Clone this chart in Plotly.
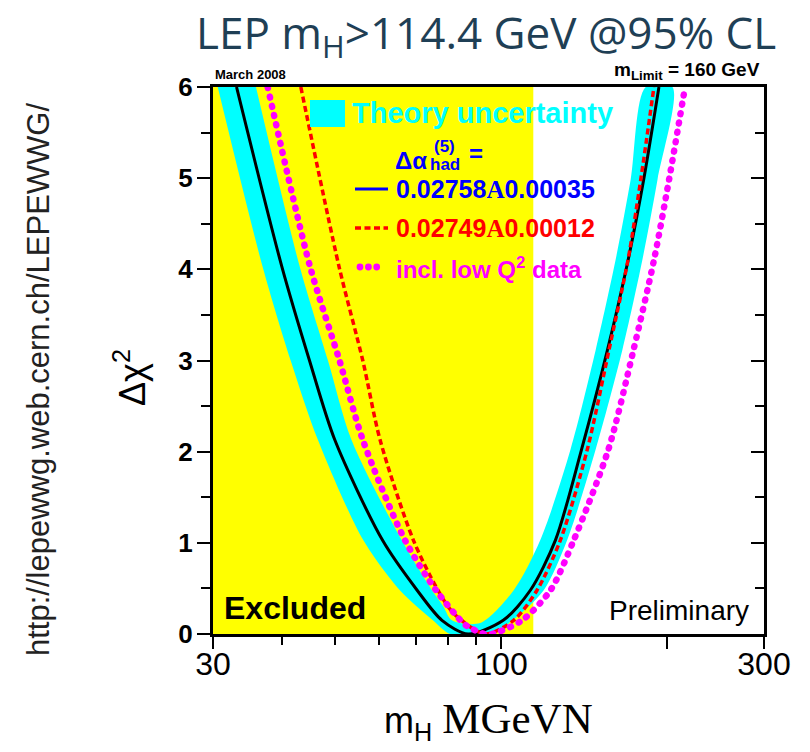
import math
import plotly.graph_objects as go

# ---------------- data ----------------
M_MIN, M_MAX = 30, 300
CHI_MIN, CHI_MAX = 0, 6
EXCLUDED_LIMIT = 114.4

x_tick_vals = [30, 100, 200, 300]
x_tick_text = ["30", "100", "", "300"]
x_minor_vals = [40, 50, 60, 70, 80, 90]

# central fit, Delta alpha_had = 0.02758 +- 0.00035 (black line)
m_central = [33.1, 40.0, 44.9, 49.9, 60.9, 70.4, 78.1, 87.1, 100.9, 113.0, 125.5, 139.9, 155.9, 170.0, 181.4, 193.4]
chi_central = [6.0, 4.03, 3.0, 2.13, 1.03, 0.48, 0.15, 0.0, 0.15, 0.48, 1.03, 2.02, 3.11, 4.10, 4.98, 6.0]

# theory uncertainty band: outer and inner envelopes
m_band_outer = [30.6, 36.9, 41.5, 46.5, 56.2, 65.5, 75.2, 80.8, 95.6, 104.8, 119.5, 131.8, 148.4, 165.9, 180.4, 192.2, 204.6]
chi_band_outer = [6.0, 4.03, 3.0, 2.13, 1.03, 0.48, 0.15, 0.0, 0.0, 0.15, 0.48, 1.03, 2.02, 3.11, 4.10, 4.98, 6.0]
m_band_inner = [35.9, 43.1, 48.5, 53.5, 66.0, 74.9, 78.6, 81.4, 91.6, 105.4, 117.8, 133.6, 148.4, 161.3, 171.8, 183.0]
chi_band_inner = [6.0, 4.03, 3.0, 2.13, 1.03, 0.48, 0.30, 0.15, 0.12, 0.48, 1.03, 2.02, 3.11, 4.10, 4.98, 6.0]

# Delta alpha_had = 0.02749 +- 0.00012 (red dashed)
m_alt = [43.3, 50.8, 56.1, 60.3, 69.3, 76.8, 81.9, 93.6, 105.4, 116.2, 128.1, 143.3, 156.9, 169.9, 179.2, 189.4]
chi_alt = [6.0, 4.03, 3.0, 2.13, 1.03, 0.48, 0.23, 0.0, 0.15, 0.48, 1.03, 2.02, 3.11, 4.10, 4.98, 6.0]

# incl. low Q^2 data (magenta dotted)
m_lowq2 = [37.7, 45.0, 50.9, 56.1, 66.9, 76.2, 85.7, 88.5, 91.6, 96.0, 109.1, 122.9, 135.5, 156.5, 173.8, 189.4, 201.7, 215.7]
chi_lowq2 = [6.0, 4.03, 3.0, 2.13, 1.03, 0.48, 0.11, 0.06, 0.014, 0.0, 0.15, 0.48, 1.03, 2.02, 3.11, 4.10, 4.98, 6.0]

# ---------------- styles ----------------
YELLOW = "#FFFF00"
CYAN = "#00FFFF"
BLUE = "#0000FF"
RED = "#FF0000"
MAGENTA = "#FF00FF"
SANS = "Liberation Sans"
SERIF = "Liberation Serif"

fig = go.Figure()

fig.add_trace(go.Scatter(
    x=[M_MIN, EXCLUDED_LIMIT, EXCLUDED_LIMIT, M_MIN],
    y=[CHI_MIN, CHI_MIN, CHI_MAX, CHI_MAX],
    mode="lines", fill="toself", fillcolor=YELLOW,
    line=dict(width=0, color=YELLOW), hoverinfo="skip"))

fig.add_trace(go.Scatter(
    x=m_band_outer + m_band_inner[::-1],
    y=chi_band_outer + chi_band_inner[::-1],
    mode="lines", fill="toself", fillcolor=CYAN,
    line=dict(width=0, color=CYAN, shape="spline", smoothing=0.8), hoverinfo="skip"))

fig.add_trace(go.Scatter(
    x=m_central, y=chi_central, mode="lines",
    line=dict(color="black", width=3, shape="spline", smoothing=0.8)))

fig.add_trace(go.Scatter(
    x=m_alt, y=chi_alt, mode="lines",
    line=dict(color=RED, width=3.5, dash="6px,3.5px", shape="spline", smoothing=0.8)))

fig.add_trace(go.Scatter(
    x=m_lowq2, y=chi_lowq2, mode="lines", yaxis="y2",
    line=dict(color=MAGENTA, width=6.5, dash="1px,8.5px", shape="spline", smoothing=0.8)))

L, R, T, B = 213, 46, 87, 118
W, H = 810, 752
PW, PH = W - L - R, H - T - B


def px(xp):
    return (xp - L) / PW


def py(yp):
    return (H - B - yp) / PH


ann = []


def text(s, x, y, size, color="black", bold=False, xanchor="left", family=SANS, angle=0):
    ann.append(dict(text=s, x=px(x), y=py(y), xref="paper", yref="paper",
                    xanchor=xanchor, yanchor="middle", showarrow=False, textangle=angle,
                    font=dict(family=family, size=size, color=color,
                              weight="bold" if bold else "normal")))


text("LEP m<sub>H</sub>>114.4 GeV @95% CL", 486, 34, 44, color="#1F3F55",
     xanchor="center", family="Open Sans")
text("http://lepewwg.web.cern.ch/LEPEWWG/", 38, 380, 31, color="#222222",
     xanchor="center", angle=-90)
text("Δχ<sup>2</sup>", 130, 378, 36, xanchor="center", angle=-90)
text("m<sub>H</sub> <span style=\"font-family:Liberation Serif;font-size:43px\">MGeVN</span>",
     488, 720, 36, xanchor="center")
text("March 2008", 213, 75, 13, bold=True)
text("m<sub>Limit</sub> = 160 GeV", 762, 71, 19, bold=True, xanchor="right")
text("Excluded", 222, 608, 32, bold=True)
text("Preliminary", 751, 610, 28, xanchor="right")

text("Theory uncertainty", 350, 113, 29, color=CYAN, bold=True)
text("Δα", 393, 160, 24, color=BLUE, bold=True)
text("(5)", 432, 146, 17, color=BLUE, bold=True)
text("had", 428, 164, 17, color=BLUE, bold=True)
text("=", 467, 153, 24, color=BLUE, bold=True)
text("0.02758<span style=\"font-family:Liberation Serif\">A</span>0.00035", 394, 189, 25,
     color=BLUE, bold=True)
text("0.02749<span style=\"font-family:Liberation Serif\">A</span>0.00012", 394, 228, 25,
     color=RED, bold=True)
text("incl. low Q<sup>2</sup> data", 394, 268, 24, color=MAGENTA, bold=True)

shapes = [
    dict(type="rect", xref="paper", yref="paper", x0=px(310), x1=px(345), y0=py(127), y1=py(100),
         fillcolor=CYAN, line=dict(width=0)),
    dict(type="line", xref="paper", yref="paper", x0=px(355), x1=px(388), y0=py(189), y1=py(189),
         line=dict(color=BLUE, width=3)),
    dict(type="line", xref="paper", yref="paper", x0=px(355), x1=px(388), y0=py(228), y1=py(228),
         line=dict(color=RED, width=3.5, dash="6px,3.5px")),
]
for cx in (360, 368.4, 376.7):
    shapes.append(dict(type="circle", xref="paper", yref="paper",
                       x0=px(cx - 3.4), x1=px(cx + 3.4), y0=py(267 + 3.4), y1=py(267 - 3.4),
                       fillcolor=MAGENTA, line=dict(width=0)))

fig.update_layout(
    width=W, height=H,
    margin=dict(l=L, r=R, t=T, b=B),
    paper_bgcolor="white", plot_bgcolor="white",
    showlegend=False, hovermode=False,
    annotations=ann, shapes=shapes,
    xaxis=dict(type="log", range=[math.log10(M_MIN), math.log10(M_MAX)],
               tickmode="array", tickvals=x_tick_vals, ticktext=x_tick_text,
               ticks="outside", ticklen=12, tickwidth=2, tickcolor="black",
               ticklabelstandoff=-12,
               minor=dict(tickmode="array", tickvals=x_minor_vals, ticks="outside",
                          ticklen=8, tickwidth=2, tickcolor="black", showgrid=False),
               showline=True, linewidth=3, linecolor="black", mirror=True,
               showgrid=False, zeroline=False,
               tickfont=dict(family=SANS, size=32, color="black")),
    yaxis=dict(range=[CHI_MIN, CHI_MAX], dtick=1, tick0=0,
               ticks="outside", ticklen=13, tickwidth=2, tickcolor="black",
               ticklabelstandoff=-1,
               minor=dict(dtick=0.5, ticks="outside", ticklen=9, tickwidth=2,
                          tickcolor="black", showgrid=False),
               showline=True, linewidth=3, linecolor="black", mirror=True,
               showgrid=False, zeroline=False,
               tickfont=dict(family=SANS, size=26, color="black", weight="bold")),
    yaxis2=dict(range=[CHI_MIN, CHI_MAX], overlaying="y", side="right", dtick=1, tick0=0,
                ticks="inside", ticklen=13, tickwidth=2, tickcolor="black",
                minor=dict(dtick=0.5, ticks="inside", ticklen=9, tickwidth=2,
                           tickcolor="black", showgrid=False),
                showticklabels=False, showline=False, showgrid=False, zeroline=False),
)

post = ("document.body.style.margin='0';"
        "var tr=document.querySelectorAll('.scatterlayer .trace');"
        "var t=tr[tr.length-1];"
        "t.querySelectorAll('path').forEach(function(p){p.style.strokeLinecap='round';});")

fig.write_html("out.html", post_script=post, config={"displayModeBar": False})
